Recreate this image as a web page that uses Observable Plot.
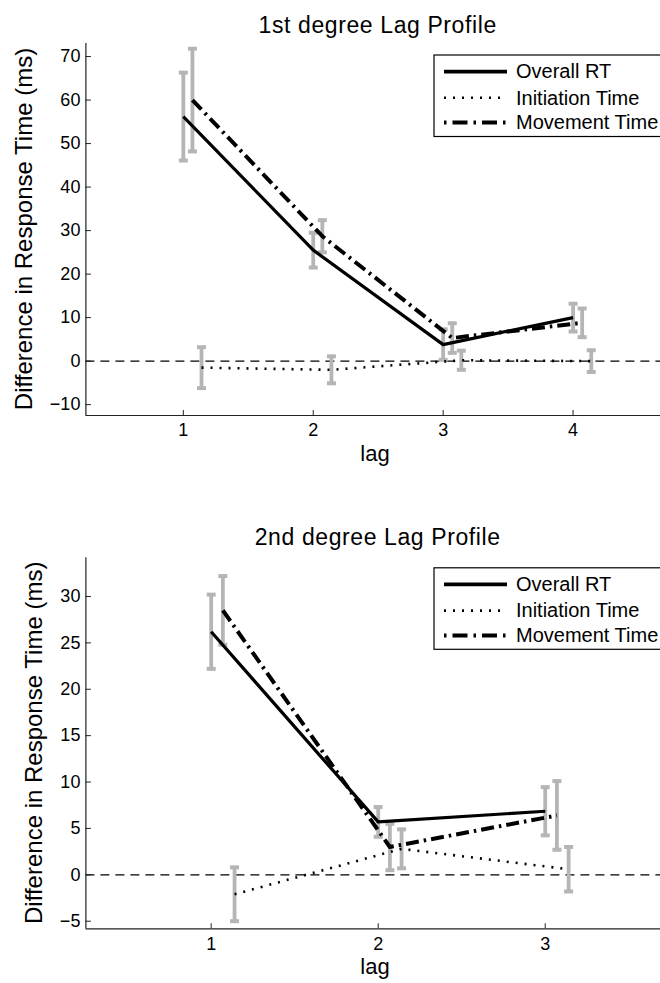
<!DOCTYPE html>
<html>
<head>
<meta charset="utf-8">
<script src="https://cdn.jsdelivr.net/npm/d3@7"></script>
<script src="https://cdn.jsdelivr.net/npm/@observablehq/plot@0.6"></script>
<style>
  html, body { margin: 0; padding: 0; background: #fff; overflow: hidden; }
  #wrap svg { display: block; }
</style>
</head>
<body>
<div id="wrap"></div>
<script>
// ---------- data ----------
const seriesNames = ["Overall RT", "Initiation Time", "Movement Time"];

// 1st degree lag profile
const lags1 = [1, 2, 3, 4];
const rt1 = [56.2, 25.5, 3.8, 10.0];
const rt1Err = [10.1, 4.0, 3.5, 3.2];
const it1 = [-1.5, -2.0, 0.2, 0.0];
const it1Err = [4.7, 3.1, 2.2, 2.5];
const mt1 = [60.0, 28.7, 5.3, 8.8];
const mt1Err = [11.8, 3.7, 3.4, 3.3];
const yTicks1 = [-10, 0, 10, 20, 30, 40, 50, 60, 70];

// 2nd degree lag profile
const lags2 = [1, 2, 3];
const rt2 = [26.2, 5.7, 6.85];
const rt2Err = [4.0, 1.6, 2.6];
const it2 = [-2.1, 2.8, 0.6];
const it2Err = [2.9, 2.1, 2.4];
const mt2 = [28.5, 3.0, 6.4];
const mt2Err = [3.7, 2.5, 3.7];
const yTicks2 = [-5, 0, 5, 10, 15, 20, 25, 30];

const titles = ["1st degree Lag Profile", "2nd degree Lag Profile"];
const xLabel = "lag";
const yLabel = "Difference in Response Time (ms)";

// ---------- styles ----------
const FONT = '"Liberation Sans", Arial, Helvetica, sans-serif';
const GRAY = "#b5b5b5";
const AXIS = "#222";
const styles = {
  "Overall RT": {offset: 0, strokeWidth: 3.2, dash: null},
  "Initiation Time": {offset: 0.14, strokeWidth: 2.6, dash: "2,7"},
  "Movement Time": {offset: 0.07, strokeWidth: 4, dash: "13,5,2.5,5"}
};
const CAP = {
  draw(ctx, size) {
    const r = Math.sqrt(size / Math.PI);
    ctx.moveTo(-r, 0);
    ctx.lineTo(r, 0);
  }
};

function makeChart(cfg) {
  const W = 660, ML = 85.4, MR = -10;
  const {height, mt, mb, xDomain, yDomain, lags, yTicks, series} = cfg;
  const frameW = W - ML - MR;
  const frameH = height - mt - mb;
  const marks = [];
  marks.push(Plot.ruleY([0], {stroke: "#000", strokeWidth: 1.2, strokeDasharray: "9,6"}));
  for (const s of series) {
    const st = styles[s.name];
    const rows = lags.map((lag, i) => ({lag, v: s.values[i], e: s.errors[i]}));
    const xf = d => d.lag + st.offset;
    marks.push(Plot.ruleX(rows, {x: xf, y1: d => d.v - d.e, y2: d => d.v + d.e, stroke: GRAY, strokeWidth: 3.8}));
    marks.push(Plot.dot(rows, {x: xf, y: d => d.v - d.e, symbol: CAP, r: 4.5, fill: "none", stroke: GRAY, strokeWidth: 4}));
    marks.push(Plot.dot(rows, {x: xf, y: d => d.v + d.e, symbol: CAP, r: 4.5, fill: "none", stroke: GRAY, strokeWidth: 4}));
  }
  for (const s of series) {
    const st = styles[s.name];
    const rows = lags.map((lag, i) => ({lag, v: s.values[i]}));
    marks.push(Plot.line(rows, {
      x: d => d.lag + st.offset, y: "v", stroke: "#000",
      strokeWidth: st.strokeWidth, strokeDasharray: st.dash, strokeLinecap: "butt"
    }));
  }
  marks.push(Plot.ruleX([xDomain[0]], {stroke: AXIS, strokeWidth: 1.2}));
  marks.push(Plot.ruleY([yDomain[0]], {stroke: AXIS, strokeWidth: 1.2}));
  marks.push(Plot.tickX(lags, {x: d => d, insetTop: frameH - 5, stroke: AXIS}));
  marks.push(Plot.tickY(yTicks, {y: d => d, insetRight: frameW - 5.5, stroke: AXIS}));
  marks.push(Plot.axisY(yTicks, {anchor: "left", tickSize: 0, tickPadding: 5.5, fontSize: 18, label: null, fill: "#000", tickFormat: d => d < 0 ? "\u2212" + Math.abs(d) : String(d)}));
  marks.push(Plot.axisX(lags, {anchor: "bottom", tickSize: 0, tickPadding: 8, fontSize: 18, label: null, fill: "#000", tickFormat: d => String(d)}));

  const svg = Plot.plot({
    width: W, height,
    marginLeft: ML, marginRight: MR, marginTop: mt, marginBottom: mb,
    x: {domain: xDomain},
    y: {domain: yDomain},
    style: {fontFamily: FONT, background: "white", color: "#000", overflow: "hidden"},
    marks
  });

  const g = d3.select(svg);
  g.append("text").attr("x", 377.7).attr("y", cfg.titleY)
    .attr("text-anchor", "middle").attr("font-size", 23).attr("letter-spacing", "0.6px")
    .attr("font-family", FONT).attr("fill", "#000").text(cfg.title);
  g.append("text").attr("transform", `translate(${cfg.yLabelX},${cfg.yLabelY}) rotate(-90)`)
    .attr("text-anchor", "middle").attr("font-size", 24)
    .attr("font-family", FONT).attr("fill", "#000").text(yLabel);
  g.append("text").attr("x", 375).attr("y", height - mb + 46)
    .attr("text-anchor", "middle").attr("font-size", 22)
    .attr("font-family", FONT).attr("fill", "#000").text(xLabel);

  // legend
  const ly = cfg.legendTop;
  const lg = g.append("g");
  lg.append("rect").attr("x", 434).attr("y", ly).attr("width", 260).attr("height", 81.5)
    .attr("fill", "white").attr("stroke", "#000").attr("stroke-width", 1.2);
  const baselines = [23.3, 49.5, 74.3];
  seriesNames.forEach((name, i) => {
    const st = styles[name];
    const yb = ly + baselines[i];
    lg.append("line").attr("x1", 444).attr("x2", 507).attr("y1", yb - 6.7).attr("y2", yb - 6.7)
      .attr("stroke", "#000").attr("stroke-width", i === 0 ? 3.8 : st.strokeWidth)
      .attr("stroke-dasharray", i === 2 ? "2.5,6,15,6" : st.dash);
    lg.append("text").attr("x", 516).attr("y", yb).attr("font-size", 20)
      .attr("text-anchor", "start")
      .attr("font-family", FONT).attr("fill", "#000").text(name);
  });
  return svg;
}

const wrap = document.getElementById("wrap");
wrap.appendChild(makeChart({
  height: 490, mt: 43, mb: 75,
  xDomain: [0.25, 4.75], yDomain: [-12.5, 73],
  lags: lags1, yTicks: yTicks1,
  series: [
    {name: "Overall RT", values: rt1, errors: rt1Err},
    {name: "Initiation Time", values: it1, errors: it1Err},
    {name: "Movement Time", values: mt1, errors: mt1Err}
  ],
  title: titles[0], titleY: 33.3,
  yLabelX: 32, yLabelY: 229,
  legendTop: 55
}));
wrap.appendChild(makeChart({
  height: 493, mt: 67.3, mb: 54.7,
  xDomain: [0.25, 3.75], yDomain: [-5.82, 34.17],
  lags: lags2, yTicks: yTicks2,
  series: [
    {name: "Overall RT", values: rt2, errors: rt2Err},
    {name: "Initiation Time", values: it2, errors: it2Err},
    {name: "Movement Time", values: mt2, errors: mt2Err}
  ],
  title: titles[1], titleY: 55,
  yLabelX: 42, yLabelY: 252.8,
  legendTop: 77.8
}));
</script>
</body>
</html>
